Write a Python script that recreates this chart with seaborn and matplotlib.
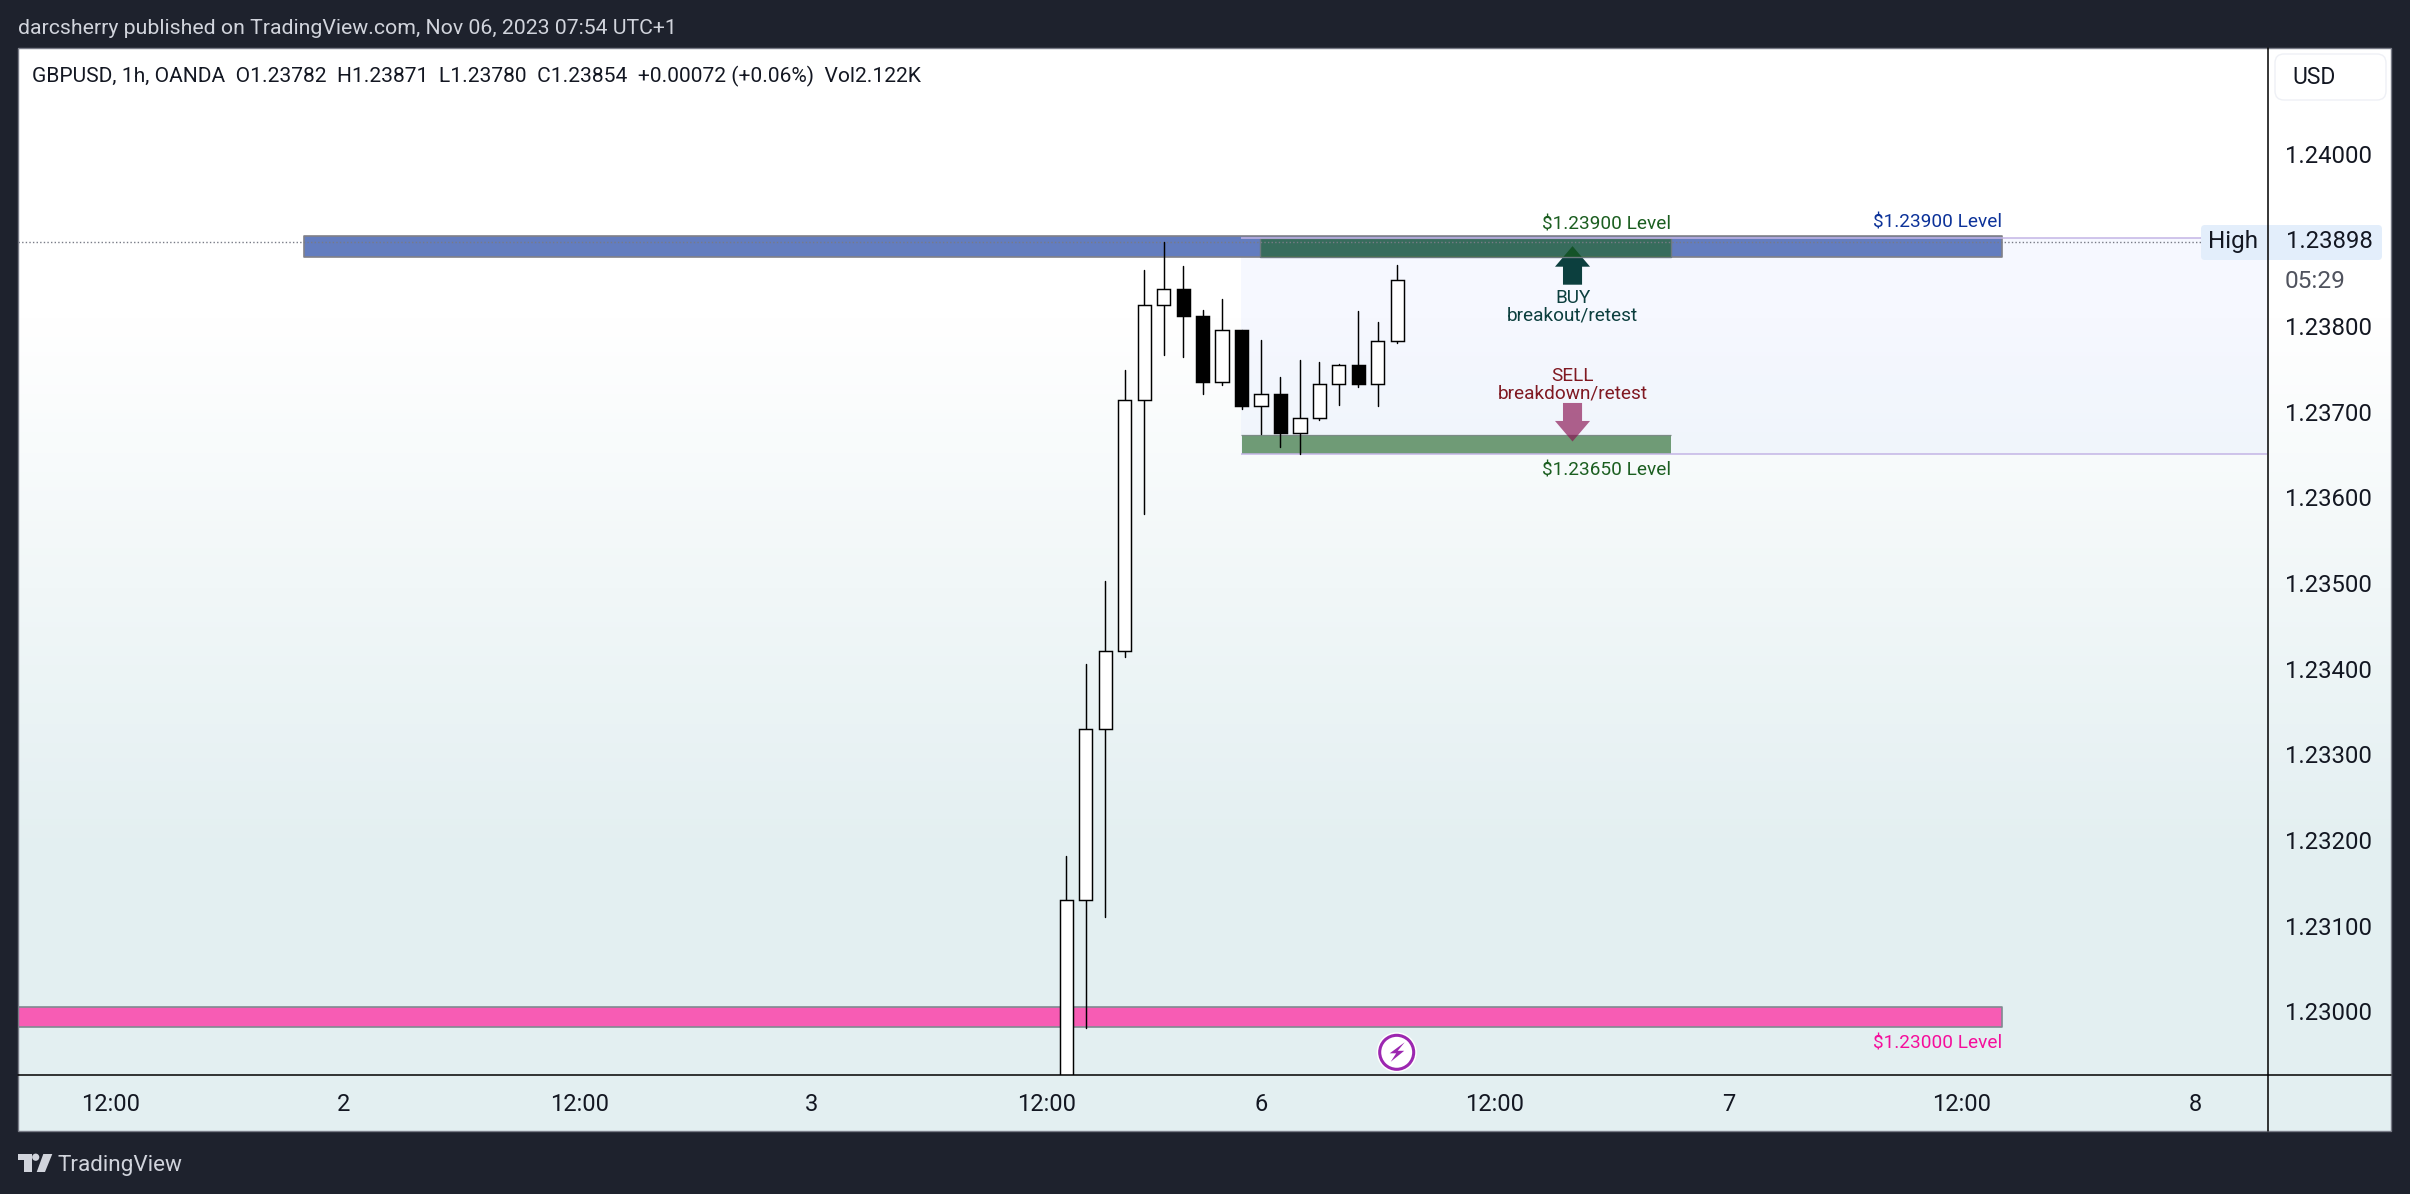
import matplotlib
matplotlib.use("Agg")
import matplotlib.pyplot as plt
import numpy as np
import pandas as pd
import seaborn as sns
from matplotlib.patches import Circle, FancyBboxPatch, Polygon, Rectangle
from matplotlib.transforms import Affine2D

# candles, one hour per bar (the first body runs below the visible range)
bar = list(range(18))
opens = [1.22850, 1.23130, 1.23329, 1.23420, 1.23713, 1.23824, 1.23843, 1.23811, 1.23734,
         1.23795, 1.23706, 1.23720, 1.23675, 1.23693, 1.23732, 1.23754, 1.23732, 1.23782]
highs = [1.23181, 1.23405, 1.23502, 1.23748, 1.23865, 1.23898, 1.23870, 1.23818, 1.23831,
         1.23795, 1.23783, 1.23740, 1.23760, 1.23758, 1.23755, 1.23817, 1.23804, 1.23871]
lows = [1.22800, 1.22981, 1.23110, 1.23414, 1.23581, 1.23766, 1.23764, 1.23720, 1.23731,
        1.23703, 1.23674, 1.23659, 1.23650, 1.23690, 1.23708, 1.23729, 1.23707, 1.23780]
closes = [1.23130, 1.23329, 1.23420, 1.23713, 1.23824, 1.23843, 1.23811, 1.23734, 1.23795,
          1.23706, 1.23720, 1.23675, 1.23693, 1.23732, 1.23754, 1.23732, 1.23782, 1.23854]

price_ticks = [1.23000, 1.23100, 1.23200, 1.23300, 1.23400, 1.23500,
               1.23600, 1.23700, 1.23800, 1.23900, 1.24000]
time_ticks = [-49.1, -37.1, -25, -13.1, -1, 10, 22, 34, 46, 58]
time_labels = ["12:00", "2", "12:00", "3", "12:00", "6", "12:00", "7", "12:00", "8"]

# price levels drawn on the chart
blue_band = (1.23880, 1.23905)
dark_green_band = (1.23880, 1.23902)
low_green_band = (1.23650, 1.23673)
pink_band = (1.22982, 1.23005)
range_box = (1.23650, 1.23902)
high_price = 1.23898

W, H = 2410, 1194
BG = "#1e222d"
FONT = "Roboto"


def to_bar(x):
    return (x - 1066.3) / 19.47


sns.set_theme(style="white")
plt.rcParams["font.family"] = [FONT, "DejaVu Sans"]

fig = plt.figure(figsize=(W / 100, H / 100), dpi=100, facecolor=BG)
px = Affine2D().scale(1 / W, -1 / H).translate(0, 1) + fig.transFigure

# panel behind everything, white fading to pale teal
bg_ax = fig.add_axes([18 / W, 1 - 1131 / H, (2391 - 18) / W, (1131 - 48) / H], zorder=0)
bg_ax.imshow(np.array([[[255, 255, 255]], [[227, 239, 241]]], dtype=np.uint8), aspect="auto",
             interpolation="bilinear", extent=(0, 1, 0, 1))
bg_ax.axis("off")

ax = fig.add_axes([18 / W, 1 - 1075 / H, (2267 - 18) / W, (1075 - 48) / H], zorder=1)
ax.patch.set_alpha(0)

df = pd.DataFrame({"bar": bar, "open": opens, "high": highs, "low": lows, "close": closes})
df["bottom"] = df[["open", "close"]].min(axis=1)
df["body"] = (df["close"] - df["open"]).abs()

# zones
ax.fill_between([to_bar(1241), 70], *range_box, color="#d2deff", alpha=0.2, lw=0, zorder=0.5)
ax.fill_between([-70, 48.05], *pink_band, facecolor="#f75cb4", edgecolor="#7f8a90", lw=1.2, zorder=2)
ax.fill_between([to_bar(304), 48.05], *blue_band, facecolor="#637dbf", edgecolor="#808088", lw=1.2, zorder=1)


def arrow(x, tip, base, tail, color, alpha, z):
    dx_head, dx_tail = 0.9, 0.49
    ax.add_patch(Polygon([(x, tip), (x + dx_head, base), (x + dx_tail, base), (x + dx_tail, tail),
                          (x - dx_tail, tail), (x - dx_tail, base), (x - dx_head, base)],
                         closed=True, facecolor=color, edgecolor="none", alpha=alpha, zorder=z))


arrow(26, 1.23893, 1.23869, 1.23848, "#0c3f3e", 1, 2)
ax.add_patch(Rectangle((9.95, dark_green_band[0]), 31.05 - 9.95, dark_green_band[1] - dark_green_band[0],
                       facecolor=(26 / 255, 97 / 255, 26 / 255, 0.6), edgecolor="#6c7a80", lw=1.0, zorder=3))
ax.add_patch(Rectangle((9.0, low_green_band[0]), 31.05 - 9.0, low_green_band[1] - low_green_band[0],
                       facecolor=(26 / 255, 96 / 255, 30 / 255, 0.6), edgecolor="none", zorder=3))
ax.hlines(range_box[1], to_bar(1241), 70, color="#c4b5e6", lw=1.1, zorder=3.2)
ax.hlines(range_box[0], to_bar(1241), 70, color="#c4b5e6", lw=1.1, zorder=3.2)
ax.hlines(low_green_band[1], to_bar(1241), 31.05, color="#7c8a86", lw=0.9, zorder=3.2)
arrow(26, 1.23665, 1.23689, 1.23710, "#880e4f", 0.65, 3.5)
ax.axhline(high_price, color="#787b86", lw=1.0, ls=(0, (1, 1.6)), zorder=3.4)

# wicks
wicks = df.melt(id_vars="bar", value_vars=["high", "low"], value_name="price")
sns.lineplot(data=wicks, x="bar", y="price", units="bar", estimator=None, color="black",
             lw=1.05, ax=ax, legend=False, zorder=4)

# bodies
up = df[df["close"] >= df["open"]]
down = df[df["close"] < df["open"]]
for part, face in [(up, "white"), (down, "black")]:
    sns.barplot(data=part, x="bar", y="body", bottom=part["bottom"].to_numpy(), native_scale=True,
                width=0.68, color=face, saturation=1, edgecolor="black", linewidth=1.05,
                errorbar=None, ax=ax, zorder=5)

ax.set_xlim(to_bar(18), to_bar(2267))
ax.set_ylim(1.229258, 1.241242)
ax.set_xlabel("")
ax.set_ylabel("")
ax.set_xticks(time_ticks, time_labels)
ax.yaxis.tick_right()
ax.set_yticks(price_ticks, [f"{p:.5f}" for p in price_ticks])
ax.tick_params(axis="x", length=0, pad=13, labelsize=17, labelcolor="#131722")
ax.tick_params(axis="y", length=0, pad=13, labelsize=17.2, labelcolor="#131722")
for side in ax.spines.values():
    side.set_visible(False)

# level and signal labels
level_size = 13.7
ax.text(31.05, 1.23918, "$1.23900 Level", ha="right", va="center", color="#1b5e20", fontsize=level_size, zorder=6)
ax.text(48.05, 1.23921, "$1.23900 Level", ha="right", va="center", color="#0c3299", fontsize=level_size, zorder=6)
ax.text(31.05, 1.23631, "$1.23650 Level", ha="right", va="center", color="#1b5e20", fontsize=level_size, zorder=6)
ax.text(48.05, 1.22963, "$1.23000 Level", ha="right", va="center", color="#f50e9b", fontsize=level_size, zorder=6)
ax.text(26, 1.23833, "BUY", ha="center", va="center", color="#0c3f3e", fontsize=level_size, zorder=6)
ax.text(26, 1.23812, "breakout/retest", ha="center", va="center", color="#0c3f3e", fontsize=level_size, zorder=6)
ax.text(26, 1.23742, "SELL", ha="center", va="center", color="#801922", fontsize=level_size, zorder=6)
ax.text(26, 1.23721, "breakdown/retest", ha="center", va="center", color="#801922", fontsize=level_size, zorder=6)

# page furniture lives in pixel coordinates, above the axes
top = fig.add_axes([0, 0, 1, 1], zorder=2)
top.axis("off")
top.set_xlim(0, W)
top.set_ylim(H, 0)


def add(p):
    top.add_patch(p)


add(Rectangle((18, 48), 2373, 1083, facecolor="none", edgecolor="#787b86", lw=1.0))
top.plot([2268, 2268], [48, 1131], color="black", lw=1.1)
top.plot([18, 2391], [1075, 1075], color="black", lw=1.1)

add(FancyBboxPatch((2204, 228), 175, 29, boxstyle="round,pad=3,rounding_size=4", facecolor="#e3eefb", edgecolor="none"))
top.text(2233, 241.5, "High", ha="center", va="center", fontsize=17.5, color="#131722")
top.text(2286, 242, "1.23898", ha="left", va="center", fontsize=17.2, color="#131722")
add(Rectangle((2268, 263), 89, 35, facecolor="white", edgecolor="none"))
top.text(2315, 282, "05:29", ha="center", va="center", fontsize=17.6, color="#50535e")

add(FancyBboxPatch((2279, 58), 103, 38, boxstyle="round,pad=4,rounding_size=9", facecolor="white", edgecolor="#eef0f5", lw=1.0))
top.text(2292, 77, "USD", ha="left", va="center", fontsize=16.5, color="#131722")

# news marker
add(Circle((1396.7, 1052.3), 20, facecolor="white", edgecolor="none"))
add(Circle((1396.7, 1052.3), 17, facecolor="white", edgecolor="#9c27b0", lw=2.2))
bolt = np.array([(8, -10), (-7, 1), (-0.5, 1), (-6, 9.5), (7.5, -1.5), (1, -1.5)]) + (1396.7, 1052.3)
add(Polygon(bolt, closed=True, facecolor="#9c27b0", edgecolor="none"))

# header and footer text
top.text(18, 28, "darcsherry published on TradingView.com, Nov 06, 2023 07:54 UTC+1",
         ha="left", va="center", fontsize=15.3, color="#d1d4dc")
top.text(32, 76, "GBPUSD, 1h, OANDA  O1.23782  H1.23871  L1.23780  C1.23854  +0.00072 (+0.06%)  Vol2.122K",
         ha="left", va="center", fontsize=15.1, color="#131722")
logo = "#d1d4dc"
add(Polygon([(18, 1154), (32, 1154), (32, 1172), (24.3, 1172), (24.3, 1160), (18, 1160)], closed=True, facecolor=logo, edgecolor="none"))
add(Circle((35.7, 1157.2), 3.6, facecolor=logo, edgecolor="none"))
add(Polygon([(43.3, 1154), (52.3, 1154), (45, 1172), (36.7, 1172)], closed=True, facecolor=logo, edgecolor="none"))
top.text(58, 1165, "TradingView", ha="left", va="center", fontsize=16.2, color=logo)

fig.savefig("out.png", dpi=100, facecolor=BG)
